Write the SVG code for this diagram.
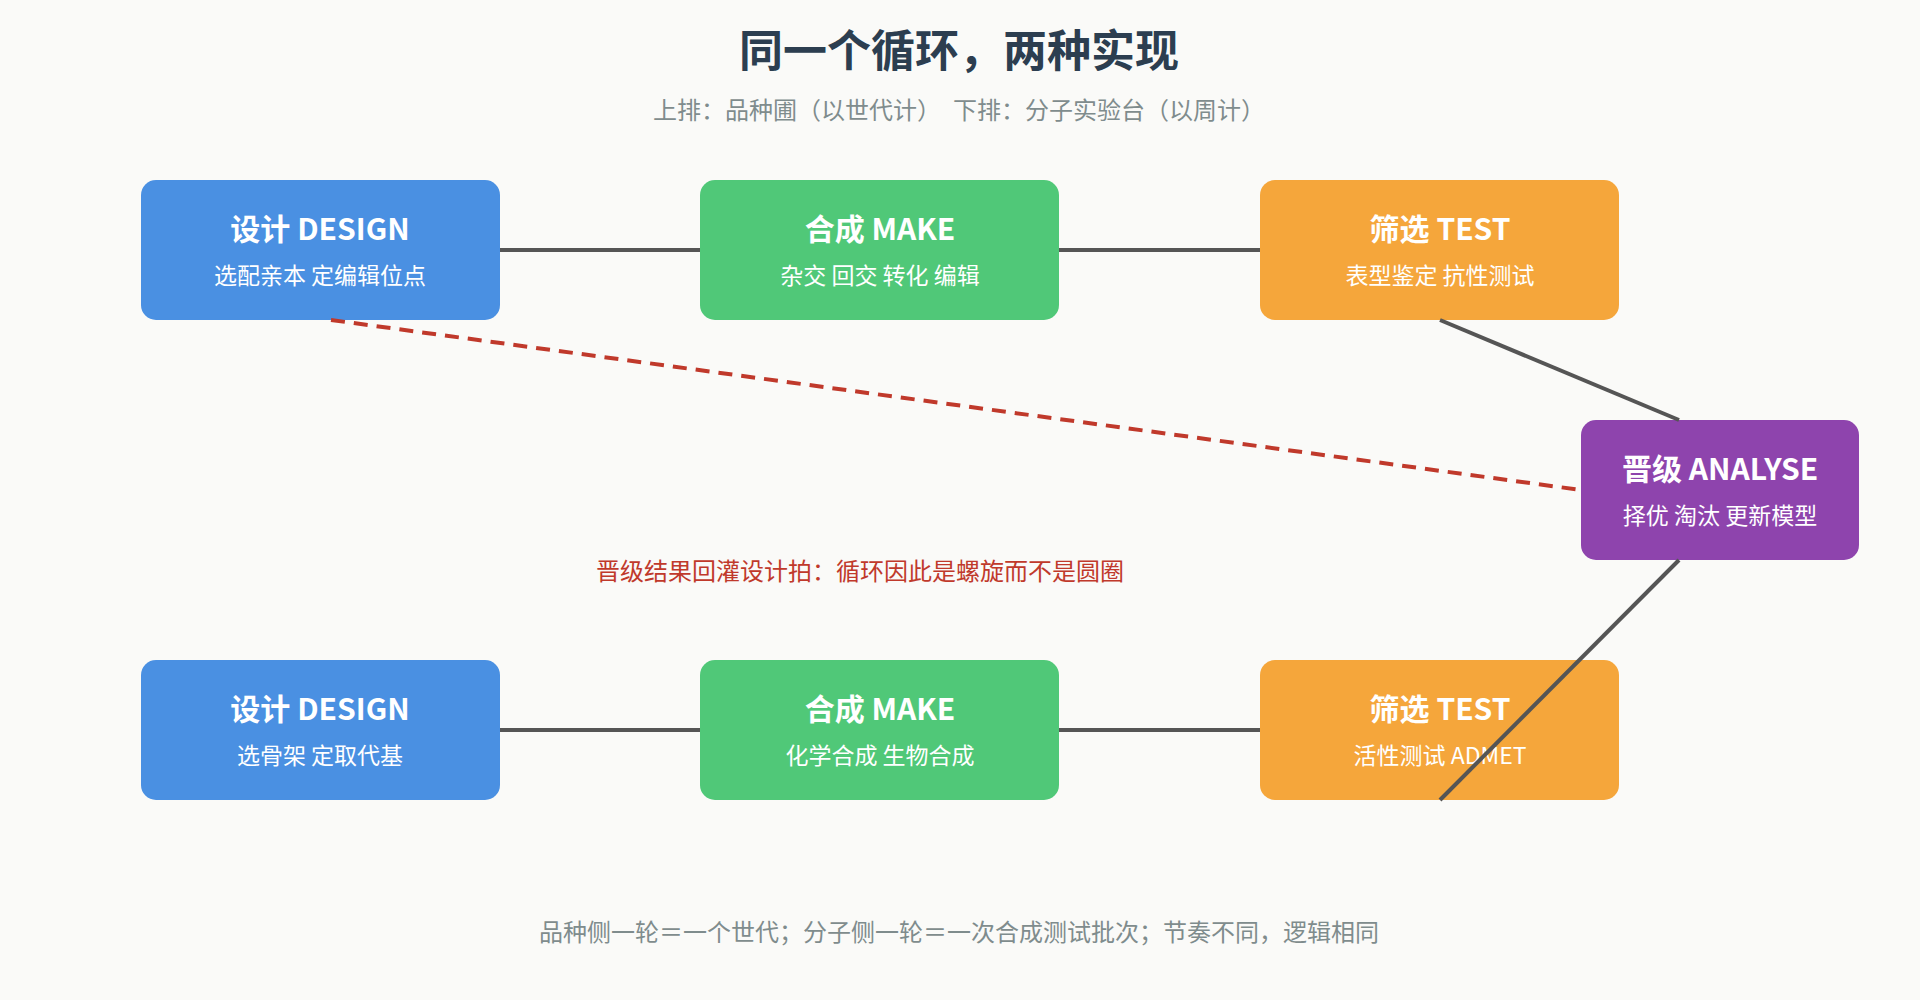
<svg xmlns="http://www.w3.org/2000/svg" width="1920" height="1000" viewBox="0 0 1920 1000">
<style>
text{font-family:"Noto Sans CJK SC","Liberation Sans",sans-serif;text-anchor:middle}
.t{font-size:30px;font-weight:bold;fill:#fff}
.s{font-size:23px;fill:#fff}
.e{stroke:#555;stroke-width:4;fill:none}
</style>
<rect width="1920" height="1000" fill="#FAFAF8"/>
<text x="959" y="67" font-size="44" font-weight="bold" fill="#2C3E50">同一个循环，两种实现</text>
<text x="959" y="119" font-size="24" fill="#7F8C8D">上排：品种圃（以世代计）　下排：分子实验台（以周计）</text>
<g id="n1"><rect x="141" y="180" width="359" height="140" rx="15" fill="#4A90E2"/><text class="t" x="320" y="240">设计 DESIGN</text><text class="s" x="320" y="284">选配亲本 定编辑位点</text></g>
<g id="n2"><rect x="700" y="180" width="359" height="140" rx="15" fill="#50C878"/><text class="t" x="880" y="240">合成 MAKE</text><text class="s" x="880" y="284">杂交 回交 转化 编辑</text></g>
<g id="n3"><rect x="1260" y="180" width="359" height="140" rx="15" fill="#F5A63B"/><text class="t" x="1440" y="240">筛选 TEST</text><text class="s" x="1440" y="284">表型鉴定 抗性测试</text></g>
<g id="n4"><rect x="1581" y="420" width="278" height="140" rx="15" fill="#8E44AD"/><text class="t" x="1720" y="480">晋级 ANALYSE</text><text class="s" x="1720" y="524">择优 淘汰 更新模型</text></g>
<g id="n5"><rect x="141" y="660" width="359" height="140" rx="15" fill="#4A90E2"/><text class="t" x="320" y="720">设计 DESIGN</text><text class="s" x="320" y="764">选骨架 定取代基</text></g>
<g id="n6"><rect x="700" y="660" width="359" height="140" rx="15" fill="#50C878"/><text class="t" x="880" y="720">合成 MAKE</text><text class="s" x="880" y="764">化学合成 生物合成</text></g>
<g id="n7"><rect x="1260" y="660" width="359" height="140" rx="15" fill="#F5A63B"/><text class="t" x="1440" y="720">筛选 TEST</text><text class="s" x="1440" y="764">活性测试 ADMET</text></g>
<g id="edges">
<line class="e" x1="500" y1="250" x2="700" y2="250"/>
<line class="e" x1="1059" y1="250" x2="1260" y2="250"/>
<line class="e" x1="1440" y1="320" x2="1679" y2="420"/>
<line class="e" x1="500" y1="730" x2="700" y2="730"/>
<line class="e" x1="1059" y1="730" x2="1260" y2="730"/>
<line class="e" x1="1679" y1="560" x2="1440" y2="800"/>
<line x1="331" y1="320" x2="1581" y2="490" stroke="#C0392B" stroke-width="4" stroke-dasharray="14,9"/>
</g>
<text x="860" y="580" font-size="24" fill="#C0392B">晋级结果回灌设计拍：循环因此是螺旋而不是圆圈</text>
<text x="959" y="941" font-size="24" fill="#7F8C8D">品种侧一轮＝一个世代；分子侧一轮＝一次合成测试批次；节奏不同，逻辑相同</text>
</svg>
